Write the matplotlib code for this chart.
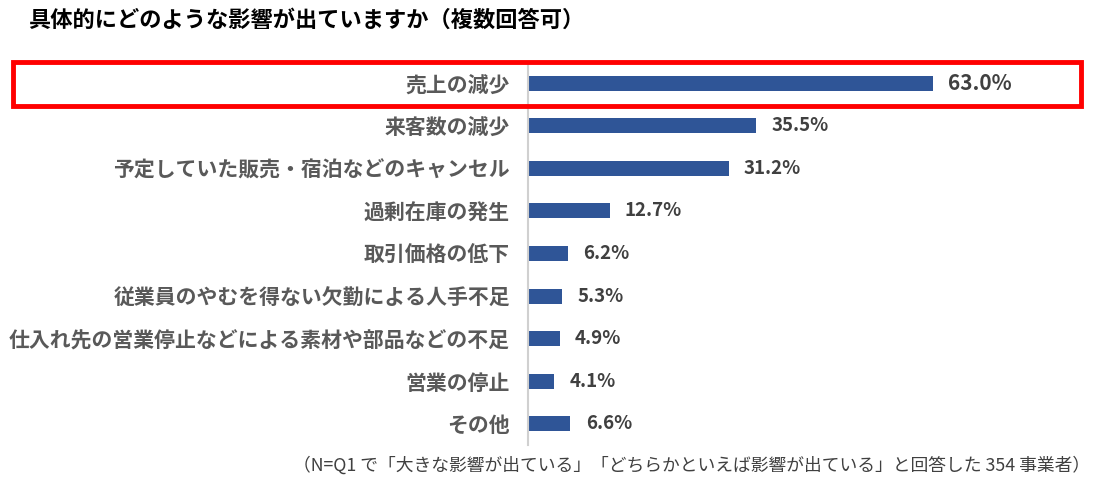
import matplotlib.pyplot as plt
from matplotlib.patches import Rectangle

plt.rcParams['font.family'] = ['Noto Sans CJK JP', 'DejaVu Sans']

# data (top to bottom)
categories = [
    "売上の減少",
    "来客数の減少",
    "予定していた販売・宿泊などのキャンセル",
    "過剰在庫の発生",
    "取引価格の低下",
    "従業員のやむを得ない欠勤による人手不足",
    "仕入れ先の営業停止などによる素材や部品などの不足",
    "営業の停止",
    "その他",
]
values = [63.0, 35.5, 31.2, 12.7, 6.2, 5.3, 4.9, 4.1, 6.6]
title = "具体的にどのような影響が出ていますか（複数回答可）"
note = "（N=Q1 で「大きな影響が出ている」「どちらかといえば影響が出ている」と回答した 354 事業者）"

W, H = 1093, 483
fig = plt.figure(figsize=(W / 100, H / 100), dpi=100)
# axes: left spine at x=528px, rows from y=62 to 445
ax = fig.add_axes([528 / W, 1 - 445 / H, (1088 - 528) / W, (445 - 62) / H])

n = len(categories)
ypos = list(range(n))
ax.barh(ypos, values, height=0.35, color="#2F5597", zorder=2)
ax.set_ylim(n - 0.5, -0.5)
ax.set_xlim(0, 87.1)

for sp in ["top", "right", "bottom"]:
    ax.spines[sp].set_visible(False)
ax.spines["left"].set_color("#D0D0D0")
ax.spines["left"].set_linewidth(1.5)
ax.set_xticks([])
ax.set_yticks(ypos)
ax.set_yticklabels(categories, fontsize=15, fontweight="bold", color="#595959")
ax.tick_params(axis="y", length=0, pad=13)

for i, v in enumerate(values):
    fs = 15 if i == 0 else 13.5
    ax.annotate(f"{v:.1f}%", xy=(v, i), xytext=(11, 0), textcoords="offset points",
                ha="left", va="center", fontsize=fs, fontweight="bold", color="#404040")

fig.text(28 / W, 1 - 20 / H, title, fontsize=16, fontweight="bold", color="black",
         ha="left", va="center")
fig.text(1090 / W, 1 - 465 / H, note, fontsize=12.8, color="#404040", ha="right", va="center")

# red highlight box around first row
fig.patches.append(Rectangle((13 / W, 1 - 106 / H), (1081 - 13) / W, (106 - 62) / H,
                             transform=fig.transFigure, fill=False, edgecolor="#FF0000",
                             linewidth=3.5, zorder=5))

fig.savefig("out.png", dpi=100, facecolor="white")
